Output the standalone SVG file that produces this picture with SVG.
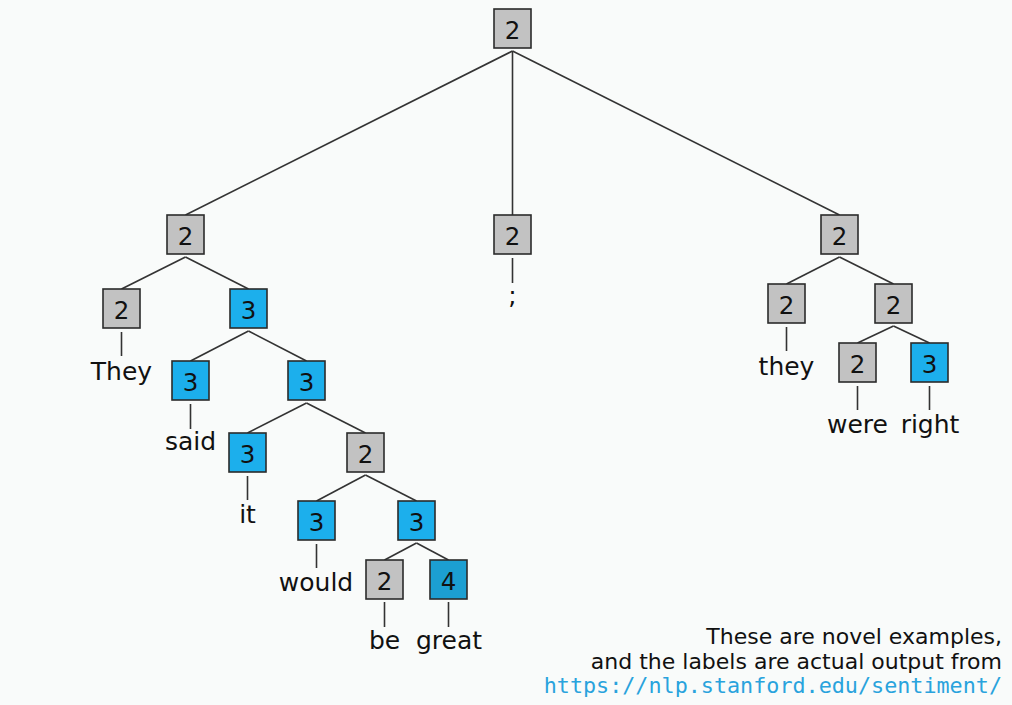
<svg xmlns="http://www.w3.org/2000/svg" width="1012" height="705" viewBox="0 0 1012 705">
<style>
.bg{fill:#f9fbfa}
.box{stroke:#2b2b2b;stroke-width:1.6}
.g{fill:#c2c2c2}
.b3{fill:#1cafec}
.b4{fill:#1c9fd2}
.num{font-family:"DejaVu Sans",Verdana,sans-serif;font-size:24.5px;fill:#111;text-anchor:middle}
.word{font-family:"DejaVu Sans",Verdana,sans-serif;font-size:25px;fill:#111;text-anchor:middle}
.edge{stroke:#333;stroke-width:1.6;fill:none}
.note{font-family:"DejaVu Sans",Verdana,sans-serif;font-size:22px;fill:#111;text-anchor:end}
.url{font-family:"DejaVu Sans Mono","Liberation Mono",monospace;font-size:21.75px;fill:#29a3dd;text-anchor:end}
</style>
<rect class="bg" x="0" y="0" width="1012" height="705"/>
<g id="connectors">
<line class="edge" x1="512.5" y1="51" x2="185.5" y2="215"/>
<line class="edge" x1="512.5" y1="51" x2="512.5" y2="215"/>
<line class="edge" x1="512.5" y1="51" x2="839.5" y2="215"/>
<line class="edge" x1="185.5" y1="257" x2="121.5" y2="289"/>
<line class="edge" x1="185.5" y1="257" x2="248.5" y2="289"/>
<line class="edge" x1="248.5" y1="331" x2="190.5" y2="361"/>
<line class="edge" x1="248.5" y1="331" x2="306.5" y2="361"/>
<line class="edge" x1="306.5" y1="403" x2="247.5" y2="433"/>
<line class="edge" x1="306.5" y1="403" x2="365.5" y2="433"/>
<line class="edge" x1="365.5" y1="475" x2="316.5" y2="501"/>
<line class="edge" x1="365.5" y1="475" x2="416.5" y2="501"/>
<line class="edge" x1="416.5" y1="543" x2="384.5" y2="560"/>
<line class="edge" x1="416.5" y1="543" x2="448.5" y2="560"/>
<line class="edge" x1="839.5" y1="257" x2="786.5" y2="284"/>
<line class="edge" x1="839.5" y1="257" x2="893.5" y2="284"/>
<line class="edge" x1="893.5" y1="326" x2="857.5" y2="343"/>
<line class="edge" x1="893.5" y1="326" x2="929.5" y2="343"/>
<line class="edge" x1="121.5" y1="332" x2="121.5" y2="356"/>
<line class="edge" x1="190.5" y1="404" x2="190.5" y2="429"/>
<line class="edge" x1="247.5" y1="476" x2="247.5" y2="500"/>
<line class="edge" x1="316.5" y1="544" x2="316.5" y2="568"/>
<line class="edge" x1="384.5" y1="602" x2="384.5" y2="627"/>
<line class="edge" x1="448.5" y1="602" x2="448.5" y2="627"/>
<line class="edge" x1="512.5" y1="258" x2="512.5" y2="283"/>
<line class="edge" x1="786.5" y1="327" x2="786.5" y2="351"/>
<line class="edge" x1="857.5" y1="386" x2="857.5" y2="410"/>
<line class="edge" x1="929.5" y1="386" x2="929.5" y2="410"/>
</g>
<g id="n-root"><rect class="box g" x="494" y="9" width="37" height="39"/><text class="num" x="512.5" y="38.5">2</text></g>
<g id="n-left"><rect class="box g" x="167" y="215" width="37" height="39"/><text class="num" x="185.5" y="244.5">2</text></g>
<g id="n-mid"><rect class="box g" x="494" y="215" width="37" height="39"/><text class="num" x="512.5" y="244.5">2</text></g>
<g id="n-right"><rect class="box g" x="821" y="215" width="37" height="39"/><text class="num" x="839.5" y="244.5">2</text></g>
<g id="n-they"><rect class="box g" x="103" y="289" width="37" height="39"/><text class="num" x="121.5" y="318.5">2</text></g>
<g id="n-lr"><rect class="box b3" x="230" y="289" width="37" height="39"/><text class="num" x="248.5" y="318.5">3</text></g>
<g id="n-said"><rect class="box b3" x="172" y="361" width="37" height="39"/><text class="num" x="190.5" y="390.5">3</text></g>
<g id="n-lrr"><rect class="box b3" x="288" y="361" width="37" height="39"/><text class="num" x="306.5" y="390.5">3</text></g>
<g id="n-it"><rect class="box b3" x="229" y="433" width="37" height="39"/><text class="num" x="247.5" y="462.5">3</text></g>
<g id="n-two"><rect class="box g" x="347" y="433" width="37" height="39"/><text class="num" x="365.5" y="462.5">2</text></g>
<g id="n-would"><rect class="box b3" x="298" y="501" width="37" height="39"/><text class="num" x="316.5" y="530.5">3</text></g>
<g id="n-three"><rect class="box b3" x="398" y="501" width="37" height="39"/><text class="num" x="416.5" y="530.5">3</text></g>
<g id="n-be"><rect class="box g" x="366" y="560" width="37" height="39"/><text class="num" x="384.5" y="589.5">2</text></g>
<g id="n-great"><rect class="box b4" x="430" y="560" width="37" height="39"/><text class="num" x="448.5" y="589.5">4</text></g>
<g id="n-they2"><rect class="box g" x="768" y="284" width="37" height="39"/><text class="num" x="786.5" y="313.5">2</text></g>
<g id="n-rr"><rect class="box g" x="875" y="284" width="37" height="39"/><text class="num" x="893.5" y="313.5">2</text></g>
<g id="n-were"><rect class="box g" x="839" y="343" width="37" height="39"/><text class="num" x="857.5" y="372.5">2</text></g>
<g id="n-rightw"><rect class="box b3" x="911" y="343" width="37" height="39"/><text class="num" x="929.5" y="372.5">3</text></g>
<g id="words">
<text class="word" x="121.5" y="380">They</text>
<text class="word" x="190.5" y="450">said</text>
<text class="word" x="247.5" y="523">it</text>
<text class="word" x="316" y="591">would</text>
<text class="word" x="384.5" y="649">be</text>
<text class="word" x="449" y="649">great</text>
<text class="word" x="512.5" y="304">;</text>
<text class="word" x="786.5" y="375">they</text>
<text class="word" x="857.5" y="433">were</text>
<text class="word" x="930" y="433">right</text>
</g>
<g id="note">
<text class="note" x="1002" y="644">These are novel examples,</text>
<text class="note" x="1002" y="668.5">and the labels are actual output from</text>
<text class="url" x="1002" y="693">https://nlp.stanford.edu/sentiment/</text>
</g>
</svg>
